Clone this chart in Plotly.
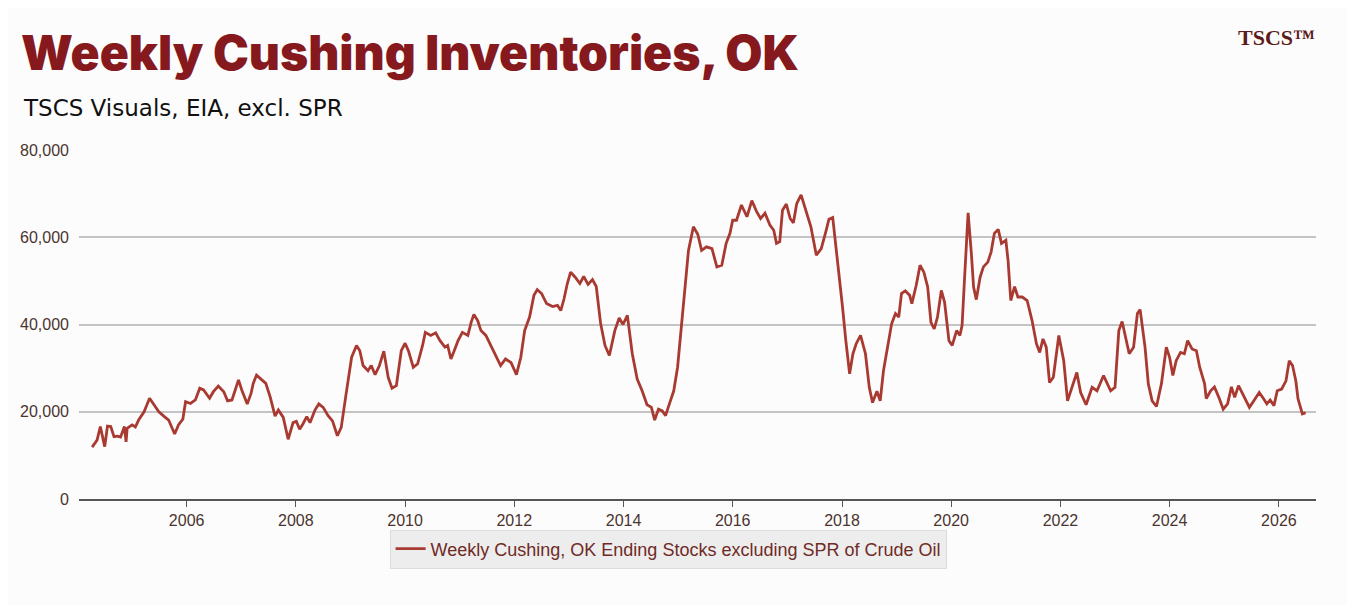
import pandas as pd
import plotly.graph_objects as go

# Decimal-year positions (thousand barrels)
year_pos = [
    2004.27, 2004.36, 2004.42, 2004.50, 2004.55, 2004.61, 2004.67, 2004.73, 2004.79, 2004.86,
    2004.89, 2004.91, 2005.00, 2005.06, 2005.12, 2005.22, 2005.32, 2005.40, 2005.49, 2005.58,
    2005.67, 2005.78, 2005.85, 2005.93, 2005.98, 2006.07, 2006.16, 2006.24, 2006.31, 2006.42,
    2006.49, 2006.58, 2006.68, 2006.75, 2006.83, 2006.89, 2006.95, 2007.01, 2007.11, 2007.18,
    2007.22, 2007.28, 2007.37, 2007.45, 2007.53, 2007.62, 2007.68, 2007.77, 2007.86, 2007.95,
    2008.01, 2008.07, 2008.13, 2008.20, 2008.26, 2008.35, 2008.42, 2008.50, 2008.59, 2008.67,
    2008.76, 2008.83, 2008.91, 2008.97, 2009.02, 2009.11, 2009.17, 2009.23, 2009.32, 2009.38,
    2009.45, 2009.53, 2009.61, 2009.69, 2009.76, 2009.84, 2009.93, 2010.00, 2010.06, 2010.15,
    2010.23, 2010.32, 2010.37, 2010.47, 2010.56, 2010.64, 2010.73, 2010.78, 2010.84, 2010.90,
    2010.97, 2011.05, 2011.15, 2011.21, 2011.26, 2011.33, 2011.39, 2011.48, 2011.57, 2011.66,
    2011.75, 2011.84, 2011.94, 2012.04, 2012.12, 2012.19, 2012.28, 2012.36, 2012.42, 2012.50,
    2012.59, 2012.70, 2012.79, 2012.85, 2012.91, 2012.97, 2013.03, 2013.11, 2013.20, 2013.27,
    2013.35, 2013.43, 2013.50, 2013.58, 2013.66, 2013.74, 2013.84, 2013.92, 2013.99, 2014.07,
    2014.16, 2014.25, 2014.34, 2014.43, 2014.51, 2014.57, 2014.64, 2014.71, 2014.77, 2014.84,
    2014.92, 2014.99, 2015.07, 2015.13, 2015.19, 2015.28, 2015.36, 2015.43, 2015.52, 2015.62,
    2015.71, 2015.80, 2015.88, 2015.95, 2016.00, 2016.07, 2016.16, 2016.26, 2016.35, 2016.44,
    2016.51, 2016.59, 2016.68, 2016.75, 2016.80, 2016.86, 2016.91, 2016.98, 2017.05, 2017.11,
    2017.17, 2017.25, 2017.34, 2017.43, 2017.53, 2017.62, 2017.71, 2017.76, 2017.83, 2017.89,
    2017.94, 2018.01, 2018.07, 2018.14, 2018.20, 2018.26, 2018.34, 2018.43, 2018.50, 2018.56,
    2018.64, 2018.70, 2018.76, 2018.84, 2018.91, 2018.98, 2019.04, 2019.09, 2019.16, 2019.24,
    2019.28, 2019.36, 2019.43, 2019.50, 2019.57, 2019.63, 2019.69, 2019.75, 2019.82, 2019.88,
    2019.96, 2020.02, 2020.10, 2020.16, 2020.20, 2020.24, 2020.31, 2020.37, 2020.41, 2020.46,
    2020.53, 2020.59, 2020.67, 2020.73, 2020.79, 2020.86, 2020.92, 2021.00, 2021.04, 2021.09,
    2021.16, 2021.22, 2021.30, 2021.39, 2021.48, 2021.56, 2021.62, 2021.68, 2021.74, 2021.80,
    2021.87, 2021.97, 2022.06, 2022.13, 2022.21, 2022.30, 2022.37, 2022.47, 2022.58, 2022.67,
    2022.79, 2022.92, 2023.00, 2023.07, 2023.13, 2023.19, 2023.26, 2023.34, 2023.41, 2023.46,
    2023.55, 2023.61, 2023.68, 2023.76, 2023.85, 2023.94, 2024.00, 2024.06, 2024.12, 2024.20,
    2024.27, 2024.33, 2024.41, 2024.49, 2024.55, 2024.64, 2024.67, 2024.75, 2024.82, 2024.90,
    2024.98, 2025.06, 2025.13, 2025.19, 2025.26, 2025.32, 2025.38, 2025.46, 2025.55, 2025.64,
    2025.72, 2025.78, 2025.84, 2025.91, 2025.97, 2026.05, 2026.13, 2026.19, 2026.25, 2026.31,
    2026.35, 2026.43, 2026.49,
]

stocks = [
    11900, 13500, 16600, 12000, 16700, 16600, 14300, 14400, 14200, 16600,
    13100, 16200, 17000, 16500, 18100, 20000, 23100, 21500, 20000, 19000,
    18100, 14900, 17000, 18300, 22300, 21900, 22700, 25400, 25000, 23100,
    24600, 25900, 24600, 22500, 22700, 25000, 27300, 25000, 21800, 24200,
    26500, 28400, 27400, 26500, 23400, 19000, 20400, 18700, 13700, 17500,
    17800, 16000, 17200, 18900, 17500, 20400, 21800, 21000, 19100, 17900,
    14500, 16400, 23300, 28300, 32500, 35200, 34000, 30600, 29400, 30600,
    28500, 30600, 33900, 27900, 25400, 26000, 34000, 35700, 34000, 30200,
    31000, 35200, 38200, 37500, 38100, 36300, 34800, 35200, 32100, 34000,
    36300, 38200, 37500, 40500, 42300, 40900, 38600, 37500, 35200, 32900,
    30600, 32100, 31300, 28500, 32500, 38600, 41700, 46700, 48000, 47100,
    44800, 44100, 44400, 43200, 45900, 49400, 52000, 50900, 49400, 51000,
    49200, 50300, 48700, 40200, 35200, 32900, 38600, 41500, 40000, 42100,
    33300, 27500, 24800, 21600, 21000, 18100, 20600, 20200, 19100, 21800,
    24800, 30200, 40900, 48600, 57000, 62400, 60700, 57000, 57800, 57400,
    53200, 53600, 58600, 60900, 63900, 63900, 67400, 64700, 68400, 65800,
    64300, 65500, 62800, 61600, 58600, 59000, 66200, 67600, 64300, 63300,
    67700, 69700, 66200, 62400, 55900, 57400, 61600, 64100, 64500, 57800,
    52800, 44000, 36300, 28700, 33300, 35600, 37500, 33300, 25600, 22100,
    24700, 22500, 29400, 35600, 40200, 42500, 41700, 47100, 47700, 46700,
    44800, 49000, 53600, 52000, 48600, 40500, 39000, 41700, 47800, 45100,
    36300, 35200, 38600, 37500, 39800, 49400, 65600, 56200, 48600, 45700,
    50900, 53200, 54300, 56600, 60900, 61800, 58600, 59300, 54700, 45500,
    48700, 46300, 46300, 45500, 40900, 35600, 33600, 36700, 34800, 26700,
    27900, 37500, 31700, 22500, 25600, 29000, 24400, 21600, 25600, 24800,
    28300, 24800, 25600, 38600, 40700, 37100, 33300, 34800, 42500, 43400,
    34800, 26400, 22500, 21200, 26400, 34800, 32500, 28300, 31700, 33600,
    33300, 36300, 34400, 34000, 30200, 26400, 23000, 24800, 25700, 23300,
    20600, 21800, 25700, 23300, 26000, 24500, 23000, 21000, 22700, 24400,
    23000, 21800, 22700, 21400, 24800, 25200, 27100, 31700, 30600, 27100,
    23000, 19500, 19800,
]

series_name = "Weekly Cushing, OK Ending Stocks excluding SPR of Crude Oil"
title_text = "Weekly Cushing Inventories, OK"
subtitle_text = "TSCS Visuals, EIA, excl. SPR"
logo_text = "TSCS\u2122"
y_tick_vals = [0, 20000, 40000, 60000, 80000]
y_tick_text = ["0", "20,000", "40,000", "60,000", "80,000"]


def to_date(yf):
    yr = int(yf)
    start = pd.Timestamp(year=yr, month=1, day=1)
    end = pd.Timestamp(year=yr + 1, month=1, day=1)
    return start + (end - start) * (yf - yr)


dates = [to_date(v) for v in year_pos]

fig = go.Figure()
fig.add_trace(go.Scatter(
    x=dates, y=stocks, mode="lines", name=series_name,
    line=dict(color="#a83a32", width=2.8),
    showlegend=True,
))

# page has an 8px body margin; figure sized so the plot area lands where the reference has it
OFF = 8
W, H = 1355 - OFF, 605 - OFF
L, T = 75 - OFF, 150 - OFF
R = W - (1316 - OFF)
B = H - (499 - OFF)
pw, ph = W - L - R, H - T - B


def px_x(px):
    return (px - OFF - L) / pw


def px_y(py):
    return (H - B - (py - OFF)) / ph


fig.update_layout(
    width=W, height=H,
    margin=dict(l=L, r=R, t=T, b=B),
    paper_bgcolor="#fdfcfc",
    plot_bgcolor="rgba(0,0,0,0)",
    font=dict(family="Liberation Sans, Arial, sans-serif", color="#4a3430", size=16),
    showlegend=True,
    legend=dict(
        orientation="h", x=px_x(666), xanchor="center", y=px_y(549), yanchor="middle",
        bgcolor="#eeeded", bordercolor="#dcdcdc", borderwidth=1,
        font=dict(size=18, color="#6e2b26", family="Liberation Sans, Arial, sans-serif"),
    ),
    xaxis=dict(
        type="date",
        range=[to_date(2004.03), to_date(2026.68)],
        tickformat="%Y",
        dtick="M24",
        tick0="2006-01-01",
        showgrid=False,
        showline=True, linecolor="#555555", linewidth=1.6,
        ticks="outside", ticklen=6, tickcolor="#555555",
        tickfont=dict(size=16, color="#4a3430"),
        zeroline=False,
    ),
    yaxis=dict(
        range=[0, 80000],
        tickvals=y_tick_vals, ticktext=y_tick_text,
        showgrid=True, gridcolor="#c4c4c4", gridwidth=1.5,
        zeroline=False, showline=False,
        ticks="", ticklabelstandoff=9,
        tickfont=dict(size=16, color="#4a3430"),
    ),
    annotations=[
        dict(text=title_text, xref="paper", yref="paper", x=px_x(15), y=px_y(53),
             xanchor="left", yanchor="middle", showarrow=False,
             font=dict(family="Inter, Roboto, sans-serif", size=48, color="#86191d", weight=900)),
        dict(text=subtitle_text, xref="paper", yref="paper", x=px_x(17), y=px_y(108),
             xanchor="left", yanchor="middle", showarrow=False,
             font=dict(family="DejaVu Sans, sans-serif", size=23, color="#111111")),
        dict(text=logo_text, xref="paper", yref="paper", x=px_x(1276), y=px_y(38),
             xanchor="center", yanchor="middle", showarrow=False,
             font=dict(family="Liberation Serif, serif", size=22, color="#5c1a1a", weight=700)),
    ],
)

fig.write_html("out.html")
